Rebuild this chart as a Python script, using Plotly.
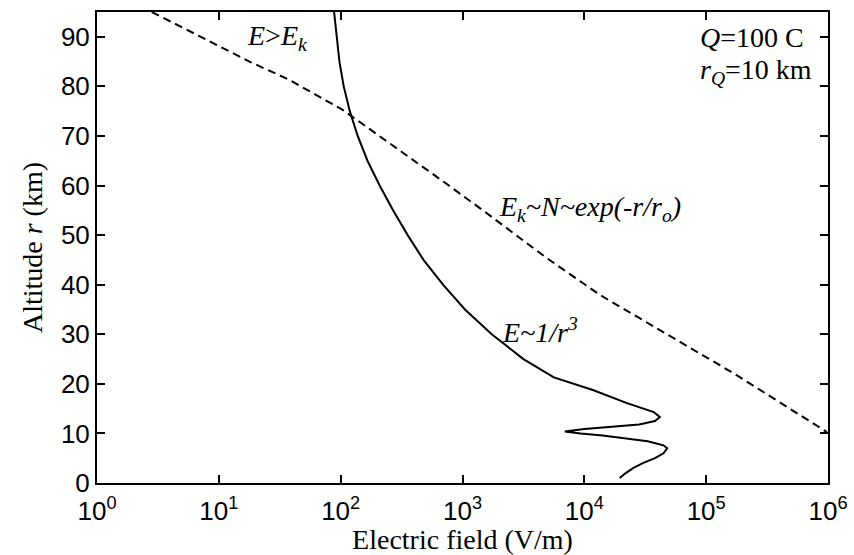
import numpy as np
import plotly.graph_objects as go

# Solid curve: electric field E (log10 V/m) vs altitude r (km)
solid_r = [95.0, 90.0, 85.0, 80.0, 75.0, 70.0, 65.0, 60.0, 55.0, 50.0, 45.0, 40.0, 35.0,
           30.0, 25.0, 21.3, 18.75, 16.1, 14.3, 13.3, 12.5, 11.8, 11.3, 10.9, 10.4, 10.0,
           9.6, 9.1, 8.4, 7.6, 7.0, 6.0, 5.0, 4.0, 3.0, 2.0, 1.0]
solid_logE = [1.946, 1.965, 1.99, 2.025, 2.075, 2.14, 2.22, 2.32, 2.43, 2.55, 2.68, 2.84, 3.02,
              3.24, 3.50, 3.75, 4.07, 4.35, 4.57, 4.62, 4.58, 4.45, 4.20, 4.00, 3.84, 3.97,
              4.15, 4.30, 4.52, 4.65, 4.68, 4.65, 4.58, 4.48, 4.40, 4.34, 4.29]

# Dashed curve: breakdown field Ek
dash_r = [95.0, 84.9, 81.3, 76.2, 75.2, 60.5, 54.4, 45.4, 37.9, 22.2, 10.3]
dash_logE = [0.45, 1.26, 1.58, 1.94, 2.02, 2.86, 3.20, 3.69, 4.13, 5.22, 5.99]

x_tickvals = [1, 10, 100, 1000, 10000, 100000, 1000000]
x_ticktext = ["10<sup>0</sup>", "10<sup>1</sup>", "10<sup>2</sup>", "10<sup>3</sup>",
              "10<sup>4</sup>", "10<sup>5</sup>", "10<sup>6</sup>"]
y_tickvals = [0, 10, 20, 30, 40, 50, 60, 70, 80, 90]

solid_E = [10 ** v for v in solid_logE]
dash_E = [10 ** v for v in dash_logE]

fig = go.Figure()
fig.add_trace(go.Scatter(x=solid_E, y=solid_r, mode="lines",
                         line=dict(color="black", width=2), showlegend=False))
fig.add_trace(go.Scatter(x=dash_E, y=dash_r, mode="lines",
                         line=dict(color="black", width=2, dash="8px,5px"), showlegend=False))

serif = "Liberation Serif, Times New Roman, serif"
ann_font = dict(family=serif, size=28, color="black")
annots = [
    ("<i>E</i>&gt;<i>E<sub>k</sub></i>", 1.215, 89.9),
    ("<i>Q</i>=100 C", 4.93, 89.9),
    ("<i>r<sub>Q</sub></i>=10 km", 4.93, 82.9),
    ("<i>E<sub>k</sub>~N~exp(-r/r<sub>o</sub>)</i>", 3.28, 55.4),
    ("<i>E~1/r<sup>3</sup></i>", 3.31, 30.8),
]
for txt, ax_, ay_ in annots:
    fig.add_annotation(text=txt, x=ax_, y=ay_, xref="x", yref="y", showarrow=False,
                       xanchor="left", yanchor="middle", font=ann_font)

axis_common = dict(showline=True, linecolor="black", linewidth=2, mirror="ticks",
                   ticks="inside", ticklen=8, tickwidth=1.5, tickcolor="black",
                   showgrid=False, zeroline=False, automargin=False,
                   tickfont=dict(family="Liberation Sans, Arial, sans-serif", size=26, color="black"))

fig.update_layout(
    width=854, height=555,
    margin=dict(l=97, r=26, t=12, b=72),
    paper_bgcolor="white", plot_bgcolor="white",
    xaxis=dict(type="log", range=[0, 6], tickvals=x_tickvals, ticktext=x_ticktext,
               ticklabelstandoff=4,
               title=dict(text="Electric field (V/m)", font=dict(family=serif, size=28, color="black"),
                          standoff=4),
               **axis_common),
    yaxis=dict(range=[0, 95], tickvals=y_tickvals,
               title=dict(text="Altitude <i>r</i> (km)", font=dict(family=serif, size=28, color="black"),
                          standoff=10),
               **axis_common),
)

fig.write_html("out.html")
